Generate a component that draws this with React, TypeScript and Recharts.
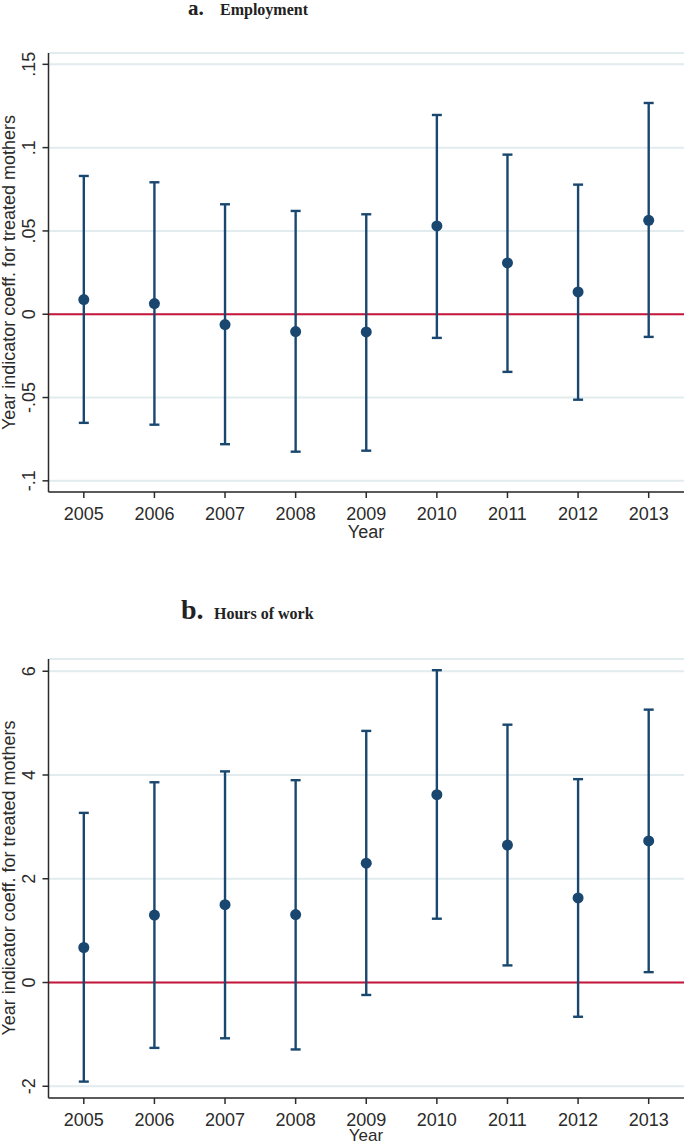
import {
  ComposedChart,
  Scatter,
  ErrorBar,
  XAxis,
  YAxis,
  CartesianGrid,
  ReferenceLine,
} from 'recharts'

const years = [2005, 2006, 2007, 2008, 2009, 2010, 2011, 2012, 2013]

// panel a: employment
const empEst = [0.0088, 0.0064, -0.0062, -0.0104, -0.0106, 0.053, 0.0308, 0.0134, 0.0564]
const empLow = [-0.0652, -0.0663, -0.078, -0.0825, -0.0819, -0.0142, -0.0346, -0.0513, -0.0136]
const empHigh = [0.083, 0.0792, 0.066, 0.062, 0.06, 0.1196, 0.0958, 0.0778, 0.1268]
const empTicks = [-0.1, -0.05, 0, 0.05, 0.1, 0.15]
const empTickLabels = ['-.1', '-.05', '0', '.05', '.1', '.15']

// panel b: hours of work
const hrsEst = [0.675, 1.3, 1.5, 1.31, 2.3, 3.62, 2.65, 1.63, 2.73]
const hrsLow = [-1.91, -1.26, -1.075, -1.29, -0.24, 1.23, 0.33, -0.66, 0.2]
const hrsHigh = [3.27, 3.86, 4.07, 3.9, 4.85, 6.02, 4.97, 3.92, 5.26]
const hrsTicks = [-2, 0, 2, 4, 6]
const hrsTickLabels = ['-2', '0', '2', '4', '6']

const NAVY = '#1a476f'
const RED = '#c8163a'
const GRID = '#e2ebee'
const AXIS = '#2b2b2b'
const FONT = '"Liberation Sans", Arial, sans-serif'
const SERIF = '"Liberation Serif", "Times New Roman", serif'

const W = 685
const H = 545

interface PanelProps {
  est: number[]
  low: number[]
  high: number[]
  ticks: number[]
  tickLabels: string[]
  domain: [number, number]
}

function Panel({ est, low, high, ticks, tickLabels, domain }: PanelProps) {
  const data = years.map((year, i) => ({
    year,
    est: est[i],
    err: [est[i] - low[i], high[i] - est[i]],
  }))

  const XTick = (props: any) => (
    <text
      x={props.x}
      y={props.y + 19.5}
      textAnchor="middle"
      fontFamily={FONT}
      fontSize={18}
      fill={AXIS}
    >
      {props.payload.value}
    </text>
  )

  const YTick = (props: any) => {
    const idx = ticks.indexOf(props.payload.value)
    const tx = props.x - 5
    return (
      <text
        x={tx}
        y={props.y}
        textAnchor="middle"
        transform={`rotate(-90, ${tx}, ${props.y})`}
        fontFamily={FONT}
        fontSize={18}
        fill={AXIS}
      >
        {idx >= 0 ? tickLabels[idx] : props.payload.value}
      </text>
    )
  }

  return (
    <ComposedChart
      width={W}
      height={H}
      data={data}
      margin={{ top: 53, right: 1, bottom: 0, left: 0 }}
    >
      <CartesianGrid
        vertical={false}
        stroke={GRID}
        strokeWidth={2}
      />
      <XAxis
        type="number"
        dataKey="year"
        domain={[2004.5, 2013.5]}
        ticks={years}
        allowDataOverflow
        height={H - 53 - 439}
        tickSize={6}
        tick={XTick}
        axisLine={{ stroke: AXIS, strokeWidth: 1.5 }}
        tickLine={{ stroke: AXIS, strokeWidth: 1.5 }}
      />
      <YAxis
        type="number"
        domain={domain}
        ticks={ticks}
        allowDataOverflow
        width={48.5}
        tickSize={6}
        tick={YTick}
        axisLine={{ stroke: AXIS, strokeWidth: 1.5 }}
        tickLine={{ stroke: AXIS, strokeWidth: 1.5 }}
      />
      <ReferenceLine y={0} stroke={RED} strokeWidth={2.2} />
      <Scatter
        dataKey="est"
        fill={NAVY}
        isAnimationActive={false}
        shape={(p: any) => <circle cx={p.cx} cy={p.cy} r={5.5} fill={NAVY} />}
      >
        <ErrorBar
          dataKey="err"
          direction="y"
          width={5}
          stroke={NAVY}
          strokeWidth={2.4}
        />
      </Scatter>
    </ComposedChart>
  )
}

export default function App() {
  const yLabel = 'Year indicator coeff. for treated mothers'
  return (
    <div
      style={{
        position: 'absolute',
        left: 0,
        top: 0,
        width: W,
        height: 1143,
        overflow: 'hidden',
        background: '#fff',
      }}
    >
      <div style={{ position: 'absolute', left: 0, top: 0 }}>
        <Panel
          est={empEst}
          low={empLow}
          high={empHigh}
          ticks={empTicks}
          tickLabels={empTickLabels}
          domain={[-0.1067, 0.1568]}
        />
      </div>
      <div style={{ position: 'absolute', left: 0, top: 605.5 }}>
        <Panel
          est={hrsEst}
          low={hrsLow}
          high={hrsHigh}
          ticks={hrsTicks}
          tickLabels={hrsTickLabels}
          domain={[-2.226, 6.236]}
        />
      </div>
      <svg
        width={W}
        height={1143}
        style={{ position: 'absolute', left: 0, top: 0, pointerEvents: 'none' }}
      >
        <text x={188} y={15} fontFamily={SERIF} fontWeight="bold" fontSize={21} fill="#222">
          a.
        </text>
        <text x={220} y={15} fontFamily={SERIF} fontWeight="bold" fontSize={16} fill="#222">
          Employment
        </text>
        <text x={181} y={619} fontFamily={SERIF} fontWeight="bold" fontSize={28} fill="#222">
          b.
        </text>
        <text x={214} y={618.5} fontFamily={SERIF} fontWeight="bold" fontSize={16} fill="#222">
          Hours of work
        </text>
        <text x={366} y={538} textAnchor="middle" fontFamily={FONT} fontSize={18} fill={AXIS}>
          Year
        </text>
        <text x={366} y={1141} textAnchor="middle" fontFamily={FONT} fontSize={17} fill={AXIS}>
          Year
        </text>
        <text
          x={14.5}
          y={272.5}
          textAnchor="middle"
          transform="rotate(-90, 14.5, 272.5)"
          fontFamily={FONT}
          fontSize={18}
          fill={AXIS}
        >
          {yLabel}
        </text>
        <text
          x={14.5}
          y={878}
          textAnchor="middle"
          transform="rotate(-90, 14.5, 878)"
          fontFamily={FONT}
          fontSize={18}
          fill={AXIS}
        >
          {yLabel}
        </text>
      </svg>
    </div>
  )
}
